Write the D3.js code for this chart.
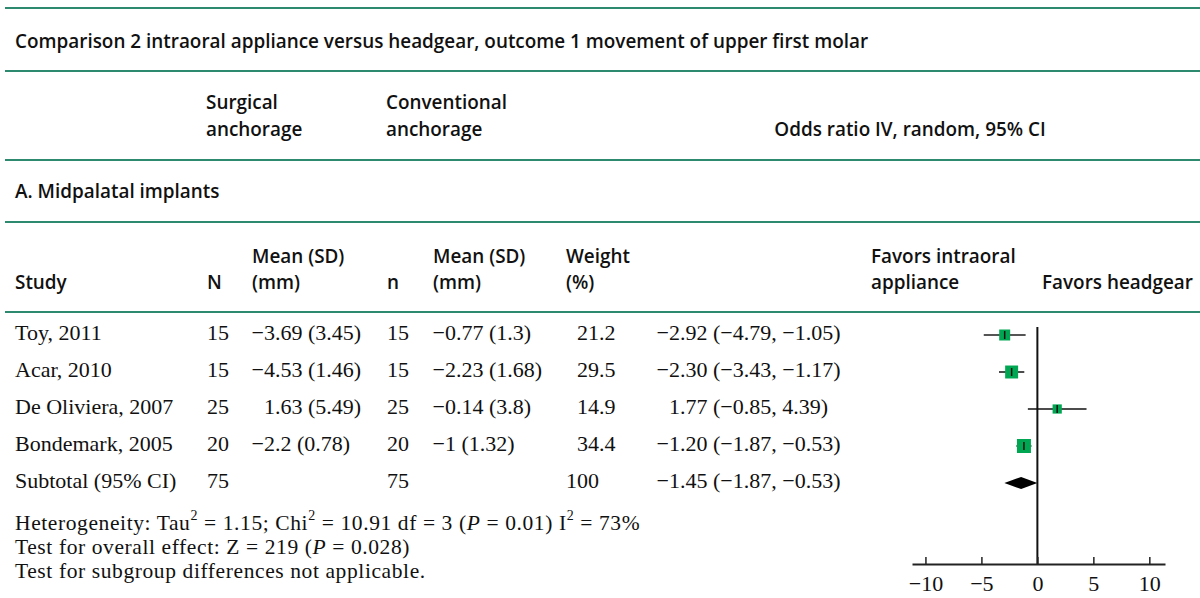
<!DOCTYPE html>
<html>
<head>
<meta charset="utf-8">
<script src="https://cdn.jsdelivr.net/npm/d3@7"></script>
<style>
  body { margin: 0; background: #fff; }
  .sans { font-family: "Open Sans", sans-serif; font-weight: 600; font-size: 18.9px; fill: #111; }
  .serif { font-family: "Liberation Serif", serif; font-size: 22px; fill: #111; }
  .foot { font-size: 21.5px; letter-spacing: 0.6px; }
</style>
</head>
<body>
<svg id="chart" width="1200" height="598"></svg>
<script>
// study rows
const studies = ["Toy, 2011", "Acar, 2010", "De Oliviera, 2007", "Bondemark, 2005"];
const surgN = [15, 15, 25, 20];
const surgMean = [-3.69, -4.53, 1.63, -2.2];
const surgSD = [3.45, 1.46, 5.49, 0.78];
const convN = [15, 15, 25, 20];
const convMean = [-0.77, -2.23, -0.14, -1];
const convSD = [1.3, 1.68, 3.8, 1.32];
const weights = [21.2, 29.5, 14.9, 34.4];
const effect = [-2.92, -2.30, 1.77, -1.20];
const ciLow = [-4.79, -3.43, -0.85, -1.87];
const ciHigh = [-1.05, -1.17, 4.39, -0.53];

// subtotal row
const subtotalLabel = "Subtotal (95% CI)";
const subtotalN = [75, 75];
const subtotalWeight = 100;
const subtotalEffect = [-1.45, -1.87, -0.53];
const subtotalDiamond = [-2.95, -1.45, 0]; // as drawn in the figure

const axisTicks = [-10, -5, 0, 5, 10];

const svg = d3.select("#chart");
const teal = "#2e8a6f";
const green = "#00a651";

const minus = v => (v < 0 ? "\u2212" : "") + Math.abs(v);
const fmt2 = v => (v < 0 ? "\u2212" : "") + Math.abs(v).toFixed(2);

// scales
const x = d3.scaleLinear().domain([-11.2, 11.4]).range([912, 1165]);
const rowY = d3.scaleLinear().domain([0, 4]).range([340, 488]);
const boxSize = d3.scaleSqrt().domain([0, 34.4]).range([0, 14]);
const axisY = 564;

// rules
[8, 71, 160, 222, 312].forEach(function(y) {
    svg.append("line")
        .attr("x1", 5).attr("x2", 1200)
        .attr("y1", y).attr("y2", y)
        .attr("stroke", teal)
        .attr("stroke-width", 2);
});

function sansText(str, tx, ty, anchor) {
    return svg.append("text")
        .attr("class", "sans")
        .attr("x", tx).attr("y", ty)
        .attr("text-anchor", anchor || "start")
        .text(str);
}

function serifText(str, tx, ty, anchor) {
    return svg.append("text")
        .attr("class", "serif")
        .attr("x", tx).attr("y", ty)
        .attr("text-anchor", anchor || "start")
        .text(str);
}

// number split at the decimal point so the columns line up on it
function decimalText(str, decX, ty) {
    const i = str.search(/[.\s]/);
    const head = i < 0 ? str : str.slice(0, i);
    const tail = i < 0 ? "" : str.slice(i);
    serifText(head, decX, ty, "end");
    if (tail) serifText(tail, decX, ty, "start").attr("xml:space", "preserve");
}

// headings
sansText("Comparison 2 intraoral appliance versus headgear, outcome 1 movement of upper first molar", 15, 48);
sansText("Surgical", 206, 109);
sansText("anchorage", 206, 136);
sansText("Conventional", 386, 109);
sansText("anchorage", 386, 136);
sansText("Odds ratio IV, random, 95% CI", 910, 136, "middle");
sansText("A. Midpalatal implants", 15, 198);

sansText("Study", 15, 289);
sansText("N", 207, 289);
sansText("Mean (SD)", 252, 263);
sansText("(mm)", 252, 289);
sansText("n", 387, 289);
sansText("Mean (SD)", 433, 263);
sansText("(mm)", 433, 289);
sansText("Weight", 566, 263);
sansText("(%)", 566, 289);
sansText("Favors intraoral", 871, 263);
sansText("appliance", 871, 289);
sansText("Favors headgear", 1042, 289);

// table body
const colDec = { surg: 275, conv: 456, weight: 599, ci: 680 };

studies.forEach(function(s, i) {
    const y = rowY(i);
    serifText(s, 15, y);
    serifText(surgN[i], 207, y);
    decimalText(minus(surgMean[i]) + " (" + surgSD[i] + ")", colDec.surg, y);
    serifText(convN[i], 387, y);
    decimalText(minus(convMean[i]) + " (" + convSD[i] + ")", colDec.conv, y);
    decimalText(weights[i].toFixed(1), colDec.weight, y);
    decimalText(fmt2(effect[i]) + " (" + fmt2(ciLow[i]) + ", " + fmt2(ciHigh[i]) + ")", colDec.ci, y);
});

const ySub = rowY(4);
serifText(subtotalLabel, 15, ySub);
serifText(subtotalN[0], 207, ySub);
serifText(subtotalN[1], 387, ySub);
decimalText(String(subtotalWeight), colDec.weight, ySub);
decimalText(fmt2(subtotalEffect[0]) + " (" + fmt2(subtotalEffect[1]) + ", " + fmt2(subtotalEffect[2]) + ")", colDec.ci, ySub);

// footnotes with superscripts and italic P
function footnote(parts, ty) {
    const t = svg.append("text").attr("class", "serif foot").attr("x", 15).attr("y", ty);
    parts.forEach(function(p) {
        const ts = t.append("tspan").text(p.t);
        if (p.sup) ts.attr("font-size", 14).attr("dy", -10);
        if (p.after) ts.attr("dy", 10);
        if (p.it) ts.attr("font-style", "italic");
    });
}

footnote([
    { t: "Heterogeneity: Tau" }, { t: "2", sup: true },
    { t: " = 1.15; Chi", after: true }, { t: "2", sup: true },
    { t: " = 10.91 df = 3 (", after: true }, { t: "P", it: true },
    { t: " = 0.01) I" }, { t: "2", sup: true },
    { t: " = 73%", after: true }
], 530);
footnote([{ t: "Test for overall effect: Z = 219 (" }, { t: "P", it: true }, { t: " = 0.028)" }], 554);
footnote([{ t: "Test for subgroup differences not applicable." }], 578);

// forest plot
const plot = svg.append("g");

plot.append("line")
    .attr("x1", x(0)).attr("x2", x(0))
    .attr("y1", 327).attr("y2", axisY)
    .attr("stroke", "#111")
    .attr("stroke-width", 2);

const rows = plot.selectAll("g.study")
    .data(studies.map((s, i) => ({ i: i, est: effect[i], lo: ciLow[i], hi: ciHigh[i], w: weights[i] })))
    .join("g")
    .attr("class", "study")
    .attr("transform", d => `translate(0,${rowY(d.i) - 5})`);

rows.append("line") // confidence interval
    .attr("x1", d => x(d.lo)).attr("x2", d => x(d.hi))
    .attr("stroke", (d, i) => i === 0 ? "#555" : "#111")
    .attr("stroke-width", (d, i) => i === 0 ? 2 : 1.5);

rows.append("rect")
    .attr("x", d => x(d.est) - boxSize(d.w) / 2)
    .attr("y", d => -boxSize(d.w) / 2)
    .attr("width", d => boxSize(d.w))
    .attr("height", d => boxSize(d.w))
    .attr("fill", green);

rows.append("line") // centre mark
    .attr("x1", d => x(d.est)).attr("x2", d => x(d.est))
    .attr("y1", -4).attr("y2", 4)
    .attr("stroke", "#111")
    .attr("stroke-width", 1.5);

const yd = ySub - 5;
plot.append("path")
    .attr("d", `M${x(subtotalDiamond[0])},${yd} L${x(subtotalDiamond[1])},${yd - 6} L${x(subtotalDiamond[2])},${yd} L${x(subtotalDiamond[1])},${yd + 6} Z`)
    .attr("fill", "#000");

const axis = plot.append("g")
    .attr("transform", `translate(0,${axisY})`)
    .call(d3.axisBottom(x).tickValues(axisTicks).tickSize(-7).tickSizeOuter(0).tickPadding(11));

axis.select(".domain").attr("stroke", "#222").attr("stroke-width", 2);
axis.selectAll(".tick line").attr("stroke", "#222").attr("stroke-width", 1.5);
axis.selectAll(".tick text")
    .attr("font-family", "Liberation Serif, serif")
    .attr("font-size", 22)
    .attr("fill", "#111");
</script>
</body>
</html>
